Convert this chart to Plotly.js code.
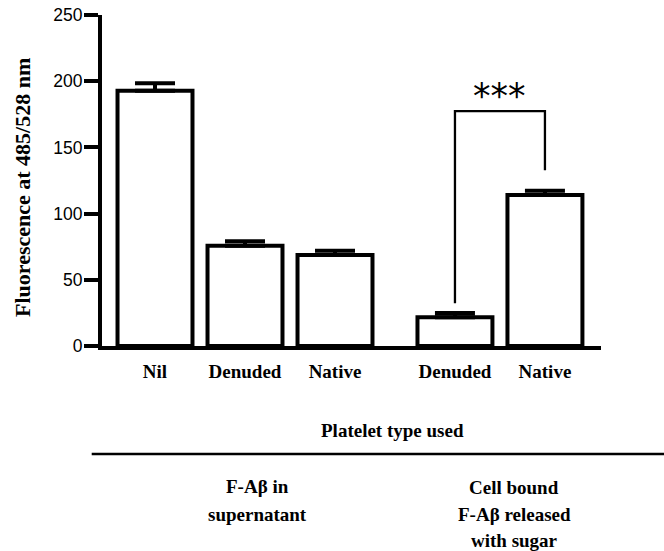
<!DOCTYPE html>
<html>
<head>
<meta charset="utf-8">
<script src="https://cdn.plot.ly/plotly-3.0.1.min.js"></script>
<style>html,body{margin:0;padding:0;background:#fff;}#chart{width:664px;height:551px;}</style>
</head>
<body>
<div id="chart"></div>
<script>
// ---- data ----
const group1Categories = ['Nil', 'Denuded', 'Native'];
const group1Values = [192.7, 75.8, 68.7];
const group1Errors = [5.7, 3.3, 3.3];

const group2Categories = ['Denuded', 'Native'];
const group2Values = [21.7, 114.1];
const group2Errors = [3.2, 3.2];

const bracketX = ['Denuded', 'Denuded', 'Native', 'Native'];
const bracketY = [32.3, 177.4, 177.4, 132.8];
const significanceLabel = '***';
const significanceY = 189;

const yTickValues = [0, 50, 100, 150, 200, 250];
const yTitle = 'Fluorescence at 485/528 nm';
const xTitle = 'Platelet type used';
const group1Lines = ['F-Aβ in', 'supernatant'];
const group2Lines = ['Cell bound', 'F-Aβ released', 'with sugar'];

// ---- styles ----
const serifBold = {family: 'Liberation Serif, Times New Roman, serif', size: 19, color: '#000', weight: 'bold'};
const sans = {family: 'Liberation Sans Narrow, Arial Narrow, Liberation Sans, Arial, sans-serif', size: 17.5, color: '#000'};

function barTrace(cats, vals, errs, xa) {
  return {
    type: 'bar', x: cats, y: vals, xaxis: xa, yaxis: 'y',
    width: 0.833,
    marker: {color: '#ffffff', line: {color: '#000', width: 4}},
    error_y: {type: 'data', array: errs, arrayminus: errs.map(() => 0), symmetric: false,
              color: '#000', thickness: 4, width: 20},
    showlegend: false, hoverinfo: 'x+y'
  };
}

const traces = [
  barTrace(group1Categories, group1Values, group1Errors, 'x'),
  barTrace(group2Categories, group2Values, group2Errors, 'x2'),
  {type: 'scatter', mode: 'lines', x: bracketX, y: bracketY, xaxis: 'x2', yaxis: 'y',
   line: {color: '#000', width: 2.3}, showlegend: false, hoverinfo: 'skip'}
];

const split = (380 - 102) / 499;
const xCommon = {
  type: 'category', showline: true, linecolor: '#000', linewidth: 4,
  ticks: '', showgrid: false, zeroline: false, tickfont: serifBold,
  ticklabelstandoff: 5, fixedrange: true, anchor: 'y'
};

// paper coordinates for annotation text around the chart
const py = v => (346 - v) / 331;
const px = v => (v - 102) / 499;

const annotations = [
  {xref: 'x2', yref: 'y', x: 0.5, y: significanceY, text: significanceLabel, showarrow: false,
   font: {family: 'DejaVu Sans, sans-serif', size: 35, color: '#000'}, xanchor: 'center', yanchor: 'middle'},
  {xref: 'paper', yref: 'paper', x: px(22.5), y: py(187.5), text: yTitle, showarrow: false, textangle: -90,
   font: {family: 'Liberation Serif, Times New Roman, serif', size: 22, color: '#000', weight: 'bold'},
   xanchor: 'center', yanchor: 'middle'},
  {xref: 'paper', yref: 'paper', x: px(392), y: py(430), text: xTitle, showarrow: false,
   font: serifBold, xanchor: 'center', yanchor: 'middle'}
];
const g1y = [486, 514];
group1Lines.forEach((t, i) => annotations.push({xref: 'paper', yref: 'paper', x: px(257), y: py(g1y[i]),
  text: t, showarrow: false, font: serifBold, xanchor: 'center', yanchor: 'middle'}));
const g2y = [487, 514, 540];
group2Lines.forEach((t, i) => annotations.push({xref: 'paper', yref: 'paper', x: px(514), y: py(g2y[i]),
  text: t, showarrow: false, font: serifBold, xanchor: 'center', yanchor: 'middle'}));

const layout = {
  width: 664, height: 551,
  margin: {l: 102, r: 63, t: 15, b: 205},
  paper_bgcolor: '#fff', plot_bgcolor: '#fff',
  bargap: 0,
  xaxis: Object.assign({}, xCommon, {domain: [0, split], range: [-0.589, 2.5]}),
  xaxis2: Object.assign({}, xCommon, {domain: [split, 1], range: [-0.833, 1.623]}),
  yaxis: {
    range: [0, 250], tickvals: yTickValues, ticks: 'outside', ticklen: 14, tickwidth: 4, tickcolor: '#000',
    showline: true, linecolor: '#000', linewidth: 4, showgrid: false, zeroline: false,
    tickfont: sans, ticklabelstandoff: -2, fixedrange: true
  },
  shapes: [
    {type: 'line', xref: 'paper', yref: 'paper', x0: px(91.7), x1: px(664), y0: py(454), y1: py(454),
     line: {color: '#000', width: 2.5}}
  ],
  annotations: annotations
};

Plotly.newPlot('chart', traces, layout, {displayModeBar: false, staticPlot: true});
</script>
</body>
</html>
